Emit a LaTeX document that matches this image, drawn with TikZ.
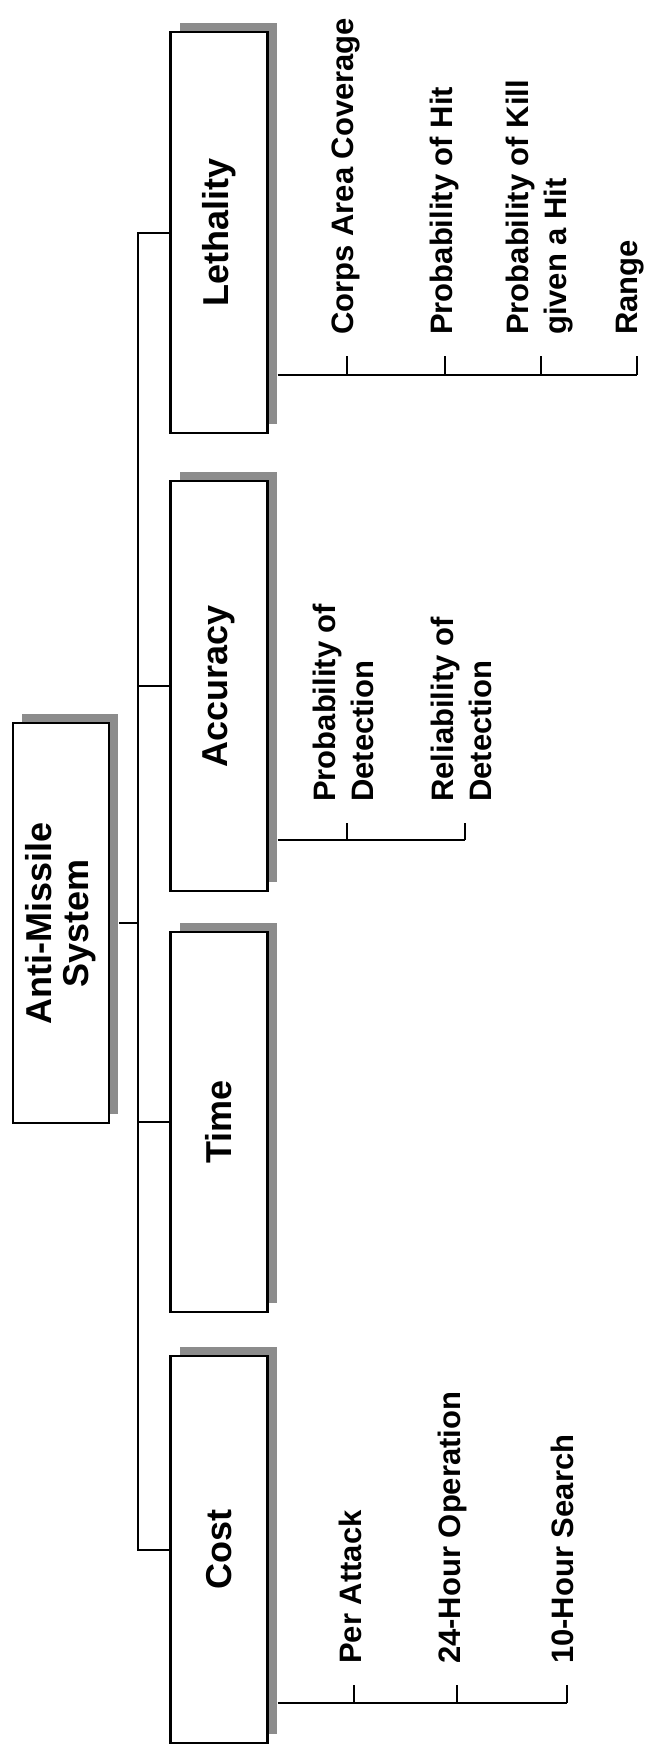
\documentclass[tikz,border=0pt]{standalone}
\usepackage{fontspec}
\setmainfont{Liberation Sans}
\usetikzlibrary{positioning,calc,shadows}

\tikzset{
  box/.style={draw, line width=2.2pt, fill=white, inner sep=0pt, minimum width=97pt,
    drop shadow={shadow xshift=9pt, shadow yshift=9pt, fill=black!45, opacity=1}},
  title/.style={rotate=90, inner sep=0pt, align=center,
    font=\bfseries\fontsize{36}{37}\selectfont},
  leaf/.style={rotate=90, anchor=base west, inner xsep=21pt, inner ysep=0pt,
    align=left, font=\bfseries\fontsize{31}{38}\selectfont},
  conn/.style={line width=2pt}
}

\begin{document}
\begin{tikzpicture}[x=1pt,y=-1pt]
    \useasboundingbox (0,0) rectangle (650,1745);

    \node[box, minimum width=96pt, minimum height=400pt] (ams) at (61,923) {};
    \node[box, minimum height=401pt] (leth) at (219,232.5) {};
    \node[box, minimum height=410pt] (acc) at (219,686) {};
    \node[box, minimum height=380pt] (tim) at (219,1122) {};
    \node[box, minimum height=387pt] (cost) at (219,1549.5) {};

    \node[title] (amst) at (ams) {Anti-Missile\\System};
    \node[title] (letht) at (leth) {Lethality};
    \node[title] (acct) at (acc) {Accuracy};
    \node[title] (timt) at (tim) {Time};
    \node[title] (costt) at (cost) {Cost};

    % trunk
    \coordinate (tr) at (138,0);
    \draw[conn] ([xshift=9pt]ams.east) -- (ams.east -| tr);
    \draw[conn] (leth.west) -- (leth.west -| tr) -- (cost.west -| tr) -- (cost.west);
    \draw[conn] (acc.west) -- (acc.west -| tr);
    \draw[conn] (tim.west) -- (tim.west -| tr);

    % lethality
    \coordinate (lb1) at (347,375);
    \coordinate (lb2) at (445,375);
    \coordinate (lb3) at (541,375);
    \coordinate (lb4) at (637,375);
    \node[leaf] (l1) at (353,356) {Corps Area Coverage};
    \node[leaf] (l2) at (452,356) {Probability of Hit};
    \node[leaf] (l3) at (566,356) {Probability of Kill\\given a Hit};
    \node[leaf] (l4) at (637,356) {Range};
    \draw[conn] ([xshift=9pt]leth.east |- lb1) -- (lb4);
    \draw[conn] (lb1) -- (lb1 |- l1.west);
    \draw[conn] (lb2) -- (lb2 |- l2.west);
    \draw[conn] (lb3) -- (lb3 |- l3.west);
    \draw[conn] (lb4) -- (lb4 |- l4.west);

    % accuracy
    \coordinate (ab1) at (347,840);
    \coordinate (ab2) at (465,840);
    \node[leaf] (a1) at (373,823) {Probability of\\Detection};
    \node[leaf] (a2) at (491,823) {Reliability of\\Detection};
    \draw[conn] ([xshift=9pt]acc.east |- ab1) -- (ab2);
    \draw[conn] (ab1) -- (ab1 |- a1.west);
    \draw[conn] (ab2) -- (ab2 |- a2.west);

    % cost
    \coordinate (cb1) at (354,1703);
    \coordinate (cb2) at (457,1703);
    \coordinate (cb3) at (567,1703);
    \node[leaf] (c1) at (361,1685) {Per Attack};
    \node[leaf] (c2) at (460,1685) {24-Hour Operation};
    \node[leaf] (c3) at (573,1685) {10-Hour Search};
    \draw[conn] ([xshift=9pt]cost.east |- cb1) -- (cb3);
    \draw[conn] (cb1) -- (cb1 |- c1.west);
    \draw[conn] (cb2) -- (cb2 |- c2.west);
    \draw[conn] (cb3) -- (cb3 |- c3.west);
\end{tikzpicture}
\end{document}
